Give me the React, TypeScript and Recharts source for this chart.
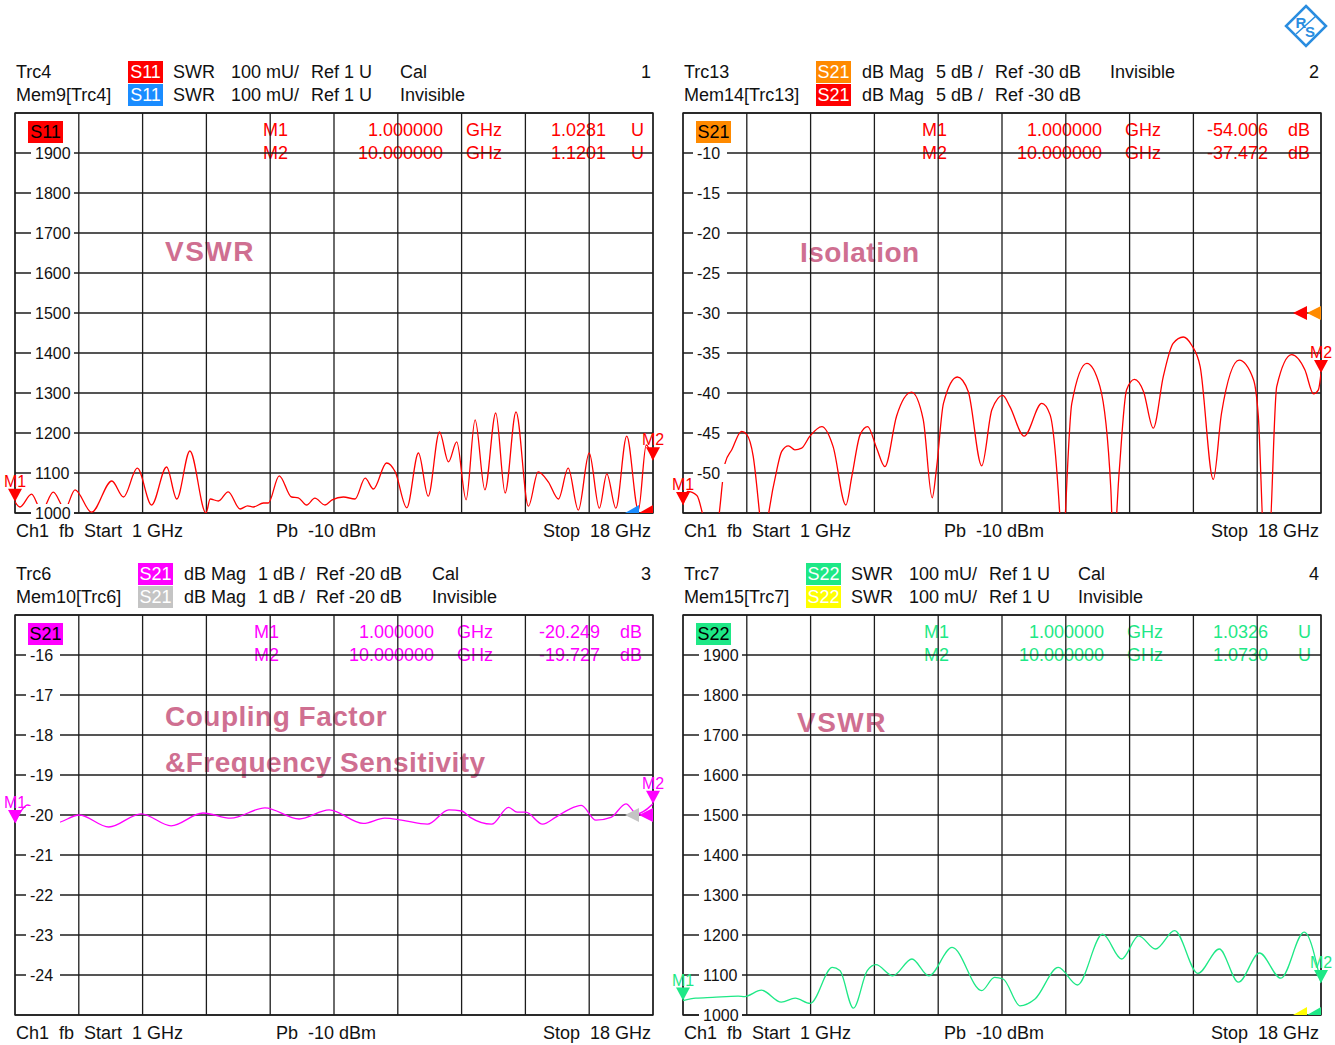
import React from 'react'
import { CartesianGrid, Line, LineChart, ReferenceArea, ReferenceDot, XAxis, YAxis } from 'recharts'

const FONT = '"Liberation Sans", Arial, sans-serif'
const RED = '#ff0000'
const BLUE = '#1a8cff'
const ORANGE = '#ff8a00'
const MAGENTA = '#ff00ff'
const GRAY = '#c4c4c4'
const GREEN = '#1ee886'
const YELLOW = '#ffff00'
const GRID = '#1c1c1c'
const TITLE = '#cf6f91'

// sweep 1..18 GHz, 10 divisions
const freqTicks = [1, 2.7, 4.4, 6.1, 7.8, 9.5, 11.2, 12.9, 14.6, 16.3, 18]

const swrTicks = [1000, 1100, 1200, 1300, 1400, 1500, 1600, 1700, 1800, 1900, 2000]
const swrLabels = [1000, 1100, 1200, 1300, 1400, 1500, 1600, 1700, 1800, 1900]
const isoTicks = [-55, -50, -45, -40, -35, -30, -25, -20, -15, -10, -5]
const isoLabels = [-50, -45, -40, -35, -30, -25, -20, -15, -10]
const cplTicks = [-25, -24, -23, -22, -21, -20, -19, -18, -17, -16, -15]
const cplLabels = [-24, -23, -22, -21, -20, -19, -18, -17, -16]

// Trc4 S11 SWR (mU)
const s11Freq = [
  1.0, 1.13, 1.44, 1.71, 2.02, 2.33, 2.6, 3.04, 3.58, 3.89, 4.26, 4.64, 5.04, 5.31, 5.66, 6.09,
  6.2, 6.42, 6.68, 7.0, 7.2, 7.35, 7.62, 7.75, 8.04, 8.37, 8.55, 8.77, 8.99, 9.26, 9.45, 9.75,
  10.06, 10.33, 10.55, 10.9, 11.13, 11.44, 11.75, 12.01, 12.31, 12.55, 12.77, 13.02, 13.26,
  13.52, 13.81, 14.06, 14.35, 14.68, 14.94, 15.21, 15.48, 15.74, 16.01, 16.3, 16.57, 16.77,
  17.01, 17.3, 17.61, 17.82, 18.0,
]
const s11Swr = [
  1028, 1015, 1047, 1005, 1052, 1010, 1058, 1002, 1080, 1040, 1112, 1020, 1115, 1035, 1155, 1000,
  1035, 1030, 1053, 1010, 1018, 1015, 1025, 1025, 1093, 1040, 1038, 1020, 1037, 1020, 1033, 1040,
  1035, 1087, 1060, 1125, 1103, 1013, 1150, 1042, 1203, 1128, 1178, 1033, 1233,
  1058, 1250, 1050, 1253, 1017, 1103, 1078, 1035, 1112, 1007, 1150, 1012, 1098,
  1012, 1192, 1007, 1170, 1132,
]

// Mem14[Trc13] S21 isolation (dB)
const isoFreq = [
  1.0, 1.12, 1.37, 1.54, 1.75, 1.94, 2.12, 2.3, 2.56, 2.7, 2.87, 3.05, 3.15, 3.27, 3.5, 3.63,
  3.81, 3.98, 4.16, 4.38, 4.7, 5.0, 5.34, 5.5, 5.72, 5.92, 6.16, 6.38, 6.69, 7.09, 7.4, 7.64,
  7.76, 7.94, 8.31, 8.6, 8.96, 9.23, 9.52, 9.71, 10.09, 10.56, 10.78, 11.05, 11.12, 11.18,
  11.36, 11.76, 12.11, 12.4, 12.47, 12.62, 12.82, 13.03, 13.27, 13.53, 13.8, 14.06, 14.33,
  14.55, 14.78, 15.13, 15.35, 15.82, 16.2, 16.33, 16.5, 16.6, 16.82, 17.22, 17.57, 17.8,
  17.93, 18.0,
]
const isoDb = [
  -54, -52.3, -52.8, -55.5, -60, -56, -48.8, -47.1, -44.8, -45.2, -47.9, -55.5, -60, -55.5, -49.6, -47.3,
  -46.6, -47.1, -46.9, -45.4, -44.2, -46.7, -54, -50.4, -45.2, -44.2, -46.9, -49.2, -42.9, -39.9, -43.3, -53.1,
  -49.2, -41.3, -38, -39.8, -49.1, -42.1, -40.3, -41.7, -45.4, -41.3, -42.7, -56, -62, -56,
  -41.3, -36.3, -39.2, -52, -60, -50, -39.6, -38.3, -39.8, -44.4, -37.9, -33.8, -33,
  -34, -36.7, -50.8, -42.5, -35.9, -38.3, -42.9, -60, -60, -39.2, -35.2, -37.1, -40.1,
  -39.6, -37.5,
]

// Trc6 S21 coupling (dB)
const cplFreq = [
  1.0, 1.2, 1.34, 1.74, 2.08, 2.71, 3.5, 4.36, 5.16, 6.01, 6.75, 7.66, 8.57, 9.37, 10.28, 10.85,
  11.3, 11.99, 12.56, 12.9, 13.13, 13.7, 14.15, 14.38, 14.61, 15.06, 15.4, 15.74, 16.09, 16.48,
  16.88, 17.28, 17.57, 18.0,
]
const cplDb = [
  -20.2, -19.85, -19.75, -20.1, -20.2, -20.0, -20.3, -19.97, -20.27, -19.95, -20.08, -19.82, -20.1, -19.87, -20.21, -20.08,
  -20.13, -20.23, -19.87, -19.9, -20.06, -20.23, -19.81, -19.93, -19.93, -20.23, -20.06, -19.87, -19.76, -20.13,
  -20.06, -19.72, -19.97, -19.72,
]

// Trc7 S22 SWR (mU)
const s22Freq = [
  1.0, 1.34, 1.79, 2.47, 2.64, 3.09, 3.62, 3.99, 4.39, 4.98, 5.18, 5.54, 5.91, 6.14, 6.59, 7.1,
  7.55, 8.17, 8.96, 9.3, 9.53, 9.98, 10.38, 11.0, 11.51, 12.18, 12.69, 13.14, 13.59, 14.1, 14.72,
  15.29, 15.8, 16.36, 16.93, 17.55, 18.0,
]
const s22Swr = [
  1036, 1042, 1044, 1047, 1046, 1062, 1032, 1042, 1029, 1119, 1111, 1017, 1111, 1126, 1098, 1140,
  1098, 1169, 1061, 1094, 1090, 1023, 1040, 1119, 1075, 1202, 1140, 1198, 1165, 1211, 1104,
  1165, 1082, 1155, 1092, 1207, 1080,
]

const PW = 638
const PH = 400
const M = 30
const DX = 668
const DY = 502

type PlotCfg = {
  left: number
  top: number
  freqs: number[]
  values: number[]
  domain: [number, number]
  ticks: number[]
  labels: number[]
  labelDx: number
  line: string
  trc: string
  mem: string
  refLevel: number
  clipRef: boolean
}

function yTick(props: any, c: PlotCfg) {
  const { y, payload } = props
  if (!c.labels.includes(payload.value)) return <g />
  const label = String(payload.value)
  const x0 = M + c.labelDx
  return (
    <g>
      <rect x={x0 - 4} y={y - 9} width={label.length * 9 + 7} height={18} fill="#fff" />
      <text x={x0} y={y} dy={5.5} fontSize={16} fontFamily={FONT} fill="#111" textAnchor="start">
        {label}
      </text>
    </g>
  )
}

function markerShape(s: any, label: string, color: string) {
  const { cx, cy } = s
  return (
    <g>
      <polygon points={`${cx - 7},${cy - 13} ${cx + 7},${cy - 13} ${cx},${cy}`} fill={color} />
      <text x={cx} y={cy - 15} fontSize={16} fontFamily={FONT} fill={color} textAnchor="middle">
        {label}
      </text>
    </g>
  )
}

function refShape(s: any, c: PlotCfg) {
  const { cx, cy } = s
  const a = cx - 28
  const b = cx - 14
  if (c.clipRef) {
    return (
      <g>
        <polygon points={`${a},${cy} ${a + 14},${cy - 8} ${a + 14},${cy}`} fill={c.mem} />
        <polygon points={`${b},${cy} ${b + 14},${cy - 8} ${b + 14},${cy}`} fill={c.trc} />
      </g>
    )
  }
  return (
    <g>
      <polygon points={`${a},${cy} ${a + 14},${cy - 7} ${a + 14},${cy + 7}`} fill={c.mem} />
      <polygon points={`${b},${cy} ${b + 14},${cy - 7} ${b + 14},${cy + 7}`} fill={c.trc} />
    </g>
  )
}

function Plot({ c }: { c: PlotCfg }) {
  const data = c.freqs.map((f, i) => ({ f, v: c.values[i] }))
  const first = data[0]
  const last = data[data.length - 1]
  return (
    <div style={{ position: 'absolute', left: c.left - M, top: c.top - M }}>
      <LineChart
        data={data}
        width={PW + 2 * M}
        height={PH + 2 * M}
        margin={{ top: M, right: M, bottom: M, left: M }}
        style={{ overflow: 'visible' }}
      >
        <CartesianGrid stroke={GRID} strokeWidth={1.3} />
        <XAxis dataKey="f" type="number" domain={[1, 18]} ticks={freqTicks} hide allowDataOverflow />
        <YAxis
          type="number"
          domain={c.domain}
          ticks={c.ticks}
          interval={0}
          mirror
          axisLine={false}
          tickLine={false}
          allowDataOverflow
          tick={(t: any) => yTick(t, c)}
        />
        <ReferenceArea x1={1} x2={18} y1={c.domain[0]} y2={c.domain[1]} fill="none" fillOpacity={0} stroke={GRID} strokeWidth={1.3} ifOverflow="visible" />
        <Line dataKey="v" type="monotone" stroke={c.line} strokeWidth={1.3} dot={false} isAnimationActive={false} />
        <ReferenceDot x={1} y={first.v} ifOverflow="visible" shape={(s: any) => markerShape(s, 'M1', c.line)} />
        <ReferenceDot x={18} y={last.v} ifOverflow="visible" shape={(s: any) => markerShape(s, 'M2', c.line)} />
        <ReferenceDot x={18} y={c.refLevel} ifOverflow="visible" shape={(s: any) => refShape(s, c)} />
      </LineChart>
    </div>
  )
}

function T({ x, y, children, color = '#111', right, size = 18, bold, spacing = 0 }: any) {
  const style: React.CSSProperties = {
    position: 'absolute',
    top: y - 12,
    height: 24,
    lineHeight: '24px',
    fontSize: size,
    fontFamily: FONT,
    color,
    whiteSpace: 'pre',
    fontWeight: bold ? 'bold' : 'normal',
    letterSpacing: spacing,
  }
  if (right) return <div style={{ ...style, left: x - 300, width: 300, textAlign: 'right' }}>{children}</div>
  return <div style={{ ...style, left: x }}>{children}</div>
}

function Badge({ x, y, bg, fg, children }: any) {
  return (
    <div
      style={{
        position: 'absolute',
        left: x,
        top: y - 11,
        width: 35,
        height: 22,
        lineHeight: '22px',
        background: bg,
        color: fg,
        fontFamily: FONT,
        fontSize: 18,
        textAlign: 'center',
      }}
    >
      {children}
    </div>
  )
}

type HeadCfg = {
  ox: number
  oy: number
  trcName: string
  memName: string
  param: string
  badgeX: number
  trc: string
  mem: string
  memFg: string
  fmt: string[]
  fmtX: number[]
  state: string[]
  stateX: number
  ch: string
  markColor: string
  markX: number[]
  m1: string[]
  m2: string[]
}

function Head({ h }: { h: HeadCfg }) {
  const { ox, oy } = h
  const rows = [72, 95]
  return (
    <>
      <T x={ox + 16} y={oy + rows[0]}>{h.trcName}</T>
      <T x={ox + 16} y={oy + rows[1]}>{h.memName}</T>
      <Badge x={ox + h.badgeX} y={oy + rows[0]} bg={h.trc} fg="#fff">{h.param}</Badge>
      <Badge x={ox + h.badgeX} y={oy + rows[1]} bg={h.mem} fg={h.memFg}>{h.param}</Badge>
      {rows.map((ry) =>
        h.fmt.map((s, i) => (
          <T key={`${ry}-${i}`} x={ox + h.fmtX[i]} y={oy + ry}>{s}</T>
        ))
      )}
      <T x={ox + h.stateX} y={oy + rows[0]}>{h.state[0]}</T>
      <T x={ox + h.stateX} y={oy + rows[1]}>{h.state[1]}</T>
      <T x={ox + 651} y={oy + rows[0]} right>{h.ch}</T>
      <Badge x={ox + 28} y={oy + 132} bg={h.trc} fg="#000">{h.param}</Badge>
      {[h.m1, h.m2].map((m, r) => (
        <React.Fragment key={r}>
          <T x={ox + h.markX[0]} y={oy + 130 + r * 23} color={h.markColor}>{m[0]}</T>
          <T x={ox + h.markX[1]} y={oy + 130 + r * 23} color={h.markColor} right>{m[1]}</T>
          <T x={ox + h.markX[2]} y={oy + 130 + r * 23} color={h.markColor}>{m[2]}</T>
          <T x={ox + h.markX[3]} y={oy + 130 + r * 23} color={h.markColor} right>{m[3]}</T>
          <T x={ox + h.markX[4]} y={oy + 130 + r * 23} color={h.markColor}>{m[4]}</T>
        </React.Fragment>
      ))}
      <T x={ox + 16} y={oy + 531}>{'Ch1  fb  Start  1 GHz'}</T>
      <T x={ox + 276} y={oy + 531}>{'Pb  -10 dBm'}</T>
      <T x={ox + 651} y={oy + 531} right>{'Stop  18 GHz'}</T>
    </>
  )
}

const heads: HeadCfg[] = [
  {
    ox: 0, oy: 0, trcName: 'Trc4', memName: 'Mem9[Trc4]', param: 'S11', badgeX: 128, trc: RED, mem: BLUE, memFg: '#fff',
    fmt: ['SWR', '100 mU/', 'Ref 1 U'], fmtX: [173, 231, 311], state: ['Cal', 'Invisible'], stateX: 400, ch: '1',
    markColor: RED, markX: [263, 443, 466, 606, 631],
    m1: ['M1', '1.000000', 'GHz', '1.0281', 'U'], m2: ['M2', '10.000000', 'GHz', '1.1201', 'U'],
  },
  {
    ox: DX, oy: 0, trcName: 'Trc13', memName: 'Mem14[Trc13]', param: 'S21', badgeX: 148, trc: ORANGE, mem: RED, memFg: '#fff',
    fmt: ['dB Mag', '5 dB /', 'Ref -30 dB'], fmtX: [194, 268, 327], state: ['Invisible', ''], stateX: 442, ch: '2',
    markColor: RED, markX: [254, 434, 457, 600, 620],
    m1: ['M1', '1.000000', 'GHz', '-54.006', 'dB'], m2: ['M2', '10.000000', 'GHz', '-37.472', 'dB'],
  },
  {
    ox: 0, oy: DY, trcName: 'Trc6', memName: 'Mem10[Trc6]', param: 'S21', badgeX: 138, trc: MAGENTA, mem: GRAY, memFg: '#fff',
    fmt: ['dB Mag', '1 dB /', 'Ref -20 dB'], fmtX: [184, 258, 316], state: ['Cal', 'Invisible'], stateX: 432, ch: '3',
    markColor: MAGENTA, markX: [254, 434, 457, 600, 620],
    m1: ['M1', '1.000000', 'GHz', '-20.249', 'dB'], m2: ['M2', '10.000000', 'GHz', '-19.727', 'dB'],
  },
  {
    ox: DX, oy: DY, trcName: 'Trc7', memName: 'Mem15[Trc7]', param: 'S22', badgeX: 138, trc: GREEN, mem: YELLOW, memFg: '#fff',
    fmt: ['SWR', '100 mU/', 'Ref 1 U'], fmtX: [183, 241, 321], state: ['Cal', 'Invisible'], stateX: 410, ch: '4',
    markColor: GREEN, markX: [256, 436, 459, 600, 630],
    m1: ['M1', '1.000000', 'GHz', '1.0326', 'U'], m2: ['M2', '10.000000', 'GHz', '1.0730', 'U'],
  },
]

const plots: PlotCfg[] = [
  { left: 15, top: 113, freqs: s11Freq, values: s11Swr, domain: [1000, 2000], ticks: swrTicks, labels: swrLabels, labelDx: 20, line: RED, trc: RED, mem: BLUE, refLevel: 1000, clipRef: true },
  { left: 15 + DX, top: 113, freqs: isoFreq, values: isoDb, domain: [-55, -5], ticks: isoTicks, labels: isoLabels, labelDx: 14, line: RED, trc: ORANGE, mem: RED, refLevel: -30, clipRef: false },
  { left: 15, top: 113 + DY, freqs: cplFreq, values: cplDb, domain: [-25, -15], ticks: cplTicks, labels: cplLabels, labelDx: 15, line: MAGENTA, trc: MAGENTA, mem: GRAY, refLevel: -20, clipRef: false },
  { left: 15 + DX, top: 113 + DY, freqs: s22Freq, values: s22Swr, domain: [1000, 2000], ticks: swrTicks, labels: swrLabels, labelDx: 20, line: GREEN, trc: GREEN, mem: YELLOW, refLevel: 1000, clipRef: true },
]

function Logo() {
  return (
    <svg style={{ position: 'absolute', left: 1284, top: 4 }} width={44} height={44}>
      <polygon points="22,2 42,22 22,42 2,22" fill="#fff" stroke="#2a8de0" strokeWidth={2.5} />
      <text x={17} y={24} fontSize={15} fontFamily={FONT} fontWeight="bold" fill="#2a8de0" textAnchor="middle">R</text>
      <text x={26} y={33} fontSize={15} fontFamily={FONT} fontWeight="bold" fill="#2a8de0" textAnchor="middle">S</text>
      <line x1={12} y1={30} x2={32} y2={12} stroke="#2a8de0" strokeWidth={1.5} />
    </svg>
  )
}

export default function App() {
  return (
    <div style={{ position: 'absolute', left: 0, top: 0, width: 1335, height: 1045, background: '#fff', overflow: 'hidden' }}>
      <T x={165} y={252} color={TITLE} size={28} bold spacing={1.5}>VSWR</T>
      <T x={800} y={253} color={TITLE} size={28} bold spacing={0.5}>Isolation</T>
      <T x={165} y={717} color={TITLE} size={28} bold spacing={0.5}>Coupling Factor</T>
      <T x={165} y={763} color={TITLE} size={28} bold spacing={0.5}>&amp;Frequency Sensitivity</T>
      <T x={797} y={723} color={TITLE} size={28} bold spacing={1.5}>VSWR</T>
      {heads.map((h, i) => (
        <Head key={i} h={h} />
      ))}
      {plots.map((p, i) => (
        <Plot key={i} c={p} />
      ))}
      <Logo />
    </div>
  )
}
